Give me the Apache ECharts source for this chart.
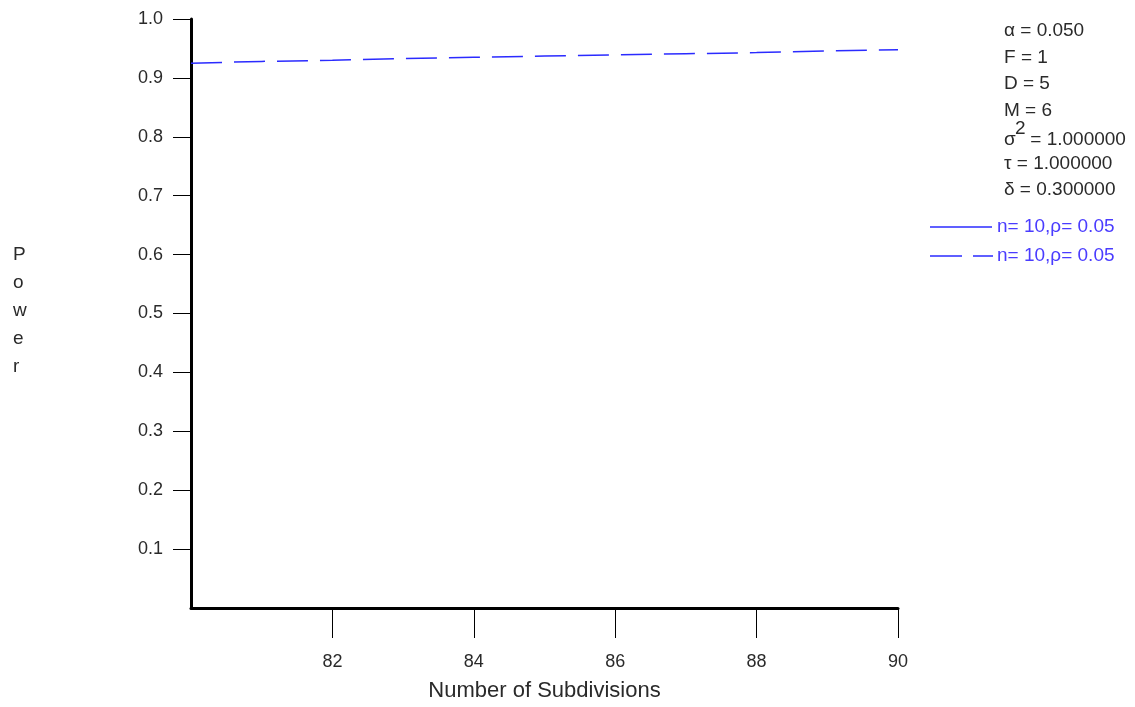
<!DOCTYPE html>
<html>
<head>
<meta charset="utf-8">
<script src="https://cdn.jsdelivr.net/npm/echarts@6/dist/echarts.min.js"></script>
<style>
html,body{margin:0;padding:0;background:#fff;}
#chart{width:1135px;height:707px;}
</style>
</head>
<body>
<div id="chart"></div>
<script>
// ---- data ----
const subdivisions = [80, 81, 82, 83, 84, 85, 86, 87, 88, 89, 90];
const powerSolid = [];  // solid series: no visible points in range
const powerDashed = [0.925, 0.928, 0.930, 0.933, 0.935, 0.937, 0.939, 0.941, 0.943, 0.946, 0.948];
const seriesNames = ['n= 10,\u03c1= 0.05', 'n= 10,\u03c1= 0.05'];
const xTicks = [82, 84, 86, 88, 90];
const yTicks = [0.1, 0.2, 0.3, 0.4, 0.5, 0.6, 0.7, 0.8, 0.9, 1.0];
const paramLines = ['\u03b1 = 0.050', 'F = 1', 'D = 5', 'M = 6', null, '\u03c4 = 1.000000', '\u03b4 = 0.300000'];
const sigmaValue = ' = 1.000000';
const xTitle = 'Number of Subdivisions';
const yTitle = 'Power';

const FONT = 'Liberation Sans';
const BLUE = '#2b2bff';
const TXT = '#2a2a2a';
const chart = echarts.init(document.getElementById('chart'));

const graphics = [];
// y title, stacked letters
graphics.push({type:'text', left: 13, top: 241, style:{text: yTitle.split('').join('\n'), font: '19px ' + FONT, fill: TXT, lineHeight: 28}});
// parameter block
const px = 1004, py0 = 31, dy = 26.5;
paramLines.forEach((t, i) => {
  if (t === null) return;
  graphics.push({type:'text', x: px, y: py0 + i*dy, style:{text: t, font: '19px ' + FONT, fill: TXT, verticalAlign:'middle'}});
});
// sigma squared line
const sy = py0 + 4*dy + 3;
graphics.push({type:'text', x: px, y: sy, style:{text:'\u03c3', font:'19px ' + FONT, fill: TXT, verticalAlign:'middle'}});
graphics.push({type:'text', x: px + 11, y: sy - 11, style:{text:'2', font:'19px ' + FONT, fill: TXT, verticalAlign:'middle'}});
graphics.push({type:'text', x: px + 21, y: sy, style:{text: sigmaValue, font:'19px ' + FONT, fill: TXT, verticalAlign:'middle'}});
// legend
const ly = [227, 256];
graphics.push({type:'line', shape:{x1:930, y1:ly[0], x2:992, y2:ly[0]}, style:{stroke:BLUE, lineWidth:1.5}});
graphics.push({type:'line', shape:{x1:930, y1:ly[1], x2:993, y2:ly[1]}, style:{stroke:BLUE, lineWidth:1.5, lineDash:[32,11]}});
seriesNames.forEach((n, i) => {
  graphics.push({type:'text', x: 997, y: ly[i], style:{text: n, font:'19px ' + FONT, fill:'#4a3cff', verticalAlign:'middle'}});
});

chart.setOption({
  animation: false,
  backgroundColor: '#fff',
  grid: {left: 191, top: 19, right: 237, height: 592},
  xAxis: {
    type: 'value', min: 80, max: 90, interval: 2,
    name: xTitle, nameLocation: 'middle', nameGap: 72,
    nameTextStyle: {fontFamily: FONT, fontSize: 22, color: TXT},
    axisLine: {show: true, lineStyle: {color: '#000', width: 3}},
    axisTick: {show: true, length: 30, customValues: xTicks, lineStyle: {color: '#000', width: 1}},
    axisLabel: {customValues: xTicks, margin: 45, fontFamily: FONT, fontSize: 18, color: TXT},
    splitLine: {show: false}
  },
  yAxis: {
    type: 'value', min: 0, max: 1, interval: 0.1,
    axisLine: {show: true, lineStyle: {color: '#000', width: 3}},
    axisTick: {show: true, length: 18, customValues: yTicks, lineStyle: {color: '#000', width: 1}},
    axisLabel: {customValues: yTicks, margin: 28, fontFamily: FONT, fontSize: 18, color: TXT, formatter: v => v.toFixed(1)},
    splitLine: {show: false}
  },
  series: [
    {name: seriesNames[0], type: 'line', showSymbol: false, data: powerSolid,
     lineStyle: {color: BLUE, width: 1.5, type: 'solid'}},
    {name: seriesNames[1], type: 'line', showSymbol: false,
     data: subdivisions.map((x, i) => [x, powerDashed[i]]),
     lineStyle: {color: BLUE, width: 1.5, type: [31, 12]}}
  ],
  graphic: graphics
});
</script>
</body>
</html>
